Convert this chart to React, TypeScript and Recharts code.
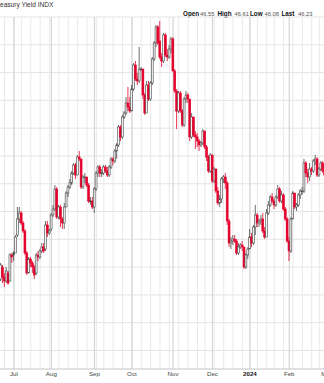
import React from "react";
import { Bar, CartesianGrid, ComposedChart, XAxis, YAxis } from "recharts";

// trading days shown (Jun 2023 - early Mar 2024), the March ones carry no bar yet
const tradingDays = [
  "2023-06-21", "2023-06-22", "2023-06-23", "2023-06-26", "2023-06-27", "2023-06-28", "2023-06-29", "2023-06-30",
  "2023-07-03", "2023-07-05", "2023-07-06", "2023-07-07", "2023-07-10", "2023-07-11", "2023-07-12", "2023-07-13", "2023-07-14",
  "2023-07-17", "2023-07-18", "2023-07-19", "2023-07-20", "2023-07-21", "2023-07-24", "2023-07-25", "2023-07-26", "2023-07-27",
  "2023-07-28", "2023-07-31",
  "2023-08-01", "2023-08-02", "2023-08-03", "2023-08-04", "2023-08-07", "2023-08-08", "2023-08-09", "2023-08-10", "2023-08-11",
  "2023-08-14", "2023-08-15", "2023-08-16", "2023-08-17", "2023-08-18", "2023-08-21", "2023-08-22", "2023-08-23", "2023-08-24",
  "2023-08-25", "2023-08-28", "2023-08-29", "2023-08-30", "2023-08-31",
  "2023-09-01", "2023-09-05", "2023-09-06", "2023-09-07", "2023-09-08", "2023-09-11", "2023-09-12", "2023-09-13", "2023-09-14",
  "2023-09-15", "2023-09-18", "2023-09-19", "2023-09-20", "2023-09-21", "2023-09-22", "2023-09-25", "2023-09-26", "2023-09-27",
  "2023-09-28", "2023-09-29",
  "2023-10-02", "2023-10-03", "2023-10-04", "2023-10-05", "2023-10-06", "2023-10-09", "2023-10-10", "2023-10-11", "2023-10-12",
  "2023-10-13", "2023-10-16", "2023-10-17", "2023-10-18", "2023-10-19", "2023-10-20", "2023-10-23", "2023-10-24", "2023-10-25",
  "2023-10-26", "2023-10-27", "2023-10-30", "2023-10-31",
  "2023-11-01", "2023-11-02", "2023-11-03", "2023-11-06", "2023-11-07", "2023-11-08", "2023-11-09", "2023-11-10", "2023-11-13",
  "2023-11-14", "2023-11-15", "2023-11-16", "2023-11-17", "2023-11-20", "2023-11-21", "2023-11-22", "2023-11-24", "2023-11-27",
  "2023-11-28", "2023-11-29", "2023-11-30",
  "2023-12-01", "2023-12-04", "2023-12-05", "2023-12-06", "2023-12-07", "2023-12-08", "2023-12-11", "2023-12-12", "2023-12-13",
  "2023-12-14", "2023-12-15", "2023-12-18", "2023-12-19", "2023-12-20", "2023-12-21", "2023-12-22", "2023-12-26", "2023-12-27",
  "2023-12-28", "2023-12-29",
  "2024-01-02", "2024-01-03", "2024-01-04", "2024-01-05", "2024-01-08", "2024-01-09", "2024-01-10", "2024-01-11", "2024-01-12",
  "2024-01-16", "2024-01-17", "2024-01-18", "2024-01-19", "2024-01-22", "2024-01-23", "2024-01-24", "2024-01-25", "2024-01-26",
  "2024-01-29", "2024-01-30", "2024-01-31",
  "2024-02-01", "2024-02-02", "2024-02-05", "2024-02-06", "2024-02-07", "2024-02-08", "2024-02-09", "2024-02-12", "2024-02-13",
  "2024-02-14", "2024-02-15", "2024-02-16", "2024-02-20", "2024-02-21", "2024-02-22", "2024-02-23", "2024-02-26", "2024-02-27",
  "2024-02-28", "2024-02-29",
  "2024-03-01", "2024-03-04", "2024-03-05", "2024-03-06", "2024-03-07", "2024-03-08",
];

const opens = [
  37.3, 37.3, 37.9, 37.4, 37.2, 37.6, 37.2, 38.5,
  38.5, 38.6, 39.5, 40.3, 40.6, 40.1, 39.7, 38.6, 37.6, 38.3, 38.1, 37.9, 37.6, 38.5, 38.4, 38.7, 38.9, 38.8, 40.0, 39.6,
  39.8, 40.5, 40.8, 41.8, 40.4, 40.9, 40.3, 40.1, 40.9, 41.6, 41.9, 42.1, 42.6, 43.0, 42.5, 43.4, 43.3, 41.9, 42.4, 42.4, 42.0, 41.2, 41.2,
  40.9, 41.8, 42.6, 42.9, 42.6, 42.6, 42.9, 42.7, 42.5, 42.9, 43.3, 43.2, 43.7, 44.0, 44.9, 44.4, 45.4, 45.6, 46.1, 45.9,
  45.7, 46.8, 48.0, 47.3, 47.2, 47.8, 47.8, 46.5, 45.6, 47.0, 46.3, 47.1, 48.3, 49.1, 49.9, 49.2, 48.4, 48.2, 49.5, 48.5, 48.4, 48.8,
  49.3, 47.7, 46.7, 45.7, 46.6, 45.7, 45.0, 46.3, 46.5, 46.3, 44.4, 45.4, 44.5, 44.4, 44.2, 44.0, 44.1, 44.7, 43.9, 43.4, 42.7,
  43.5, 42.2, 42.8, 41.7, 41.1, 41.3, 42.3, 42.4, 42.1, 40.2, 39.1, 39.2, 39.3, 39.2, 38.6, 38.9, 39.0, 38.9, 37.9, 38.5,
  38.8, 39.4, 39.1, 39.9, 40.5, 40.1, 40.2, 40.3, 39.7, 39.4, 40.6, 41.0, 41.4, 41.2, 41.0, 41.4, 41.8, 41.2, 41.5, 40.8, 40.3,
  39.2, 38.7, 40.3, 41.6, 40.9, 41.0, 41.5, 41.7, 41.7, 43.1, 42.6, 42.4, 42.8, 42.7, 43.2, 43.3, 42.5, 42.8, 43.1, 42.7,
];

const highs = [
  37.6, 38.1, 38.0, 37.6, 37.9, 37.7, 38.6, 38.6,
  38.7, 39.5, 40.9, 40.9, 40.7, 40.2, 39.8, 38.7, 38.4, 38.4, 38.2, 38.0, 38.6, 38.7, 38.8, 39.1, 39.1, 40.2, 40.2, 39.8,
  40.6, 41.0, 42.0, 41.9, 41.0, 41.0, 40.4, 41.1, 41.7, 42.0, 42.3, 42.7, 43.1, 43.1, 43.5, 43.7, 43.3, 42.5, 42.6, 42.4, 42.1, 41.4, 41.4,
  41.9, 42.7, 43.0, 43.0, 42.8, 43.0, 43.0, 42.9, 43.0, 43.4, 43.4, 43.8, 44.1, 45.0, 45.0, 45.5, 45.7, 46.4, 46.9, 46.4,
  47.0, 48.1, 48.2, 47.6, 48.9, 47.9, 47.8, 46.6, 47.2, 47.2, 47.2, 48.4, 49.2, 50.0, 50.0, 50.2, 48.6, 49.6, 49.6, 48.8, 49.0, 49.4,
  49.4, 47.8, 46.8, 46.7, 46.7, 45.8, 46.4, 46.7, 46.6, 46.3, 45.6, 45.4, 44.7, 44.6, 44.3, 44.2, 44.8, 44.7, 44.0, 43.5, 43.6,
  43.5, 42.9, 42.8, 41.9, 41.5, 42.4, 42.5, 42.6, 42.2, 40.3, 39.4, 39.5, 39.5, 39.3, 39.1, 39.1, 39.2, 38.9, 38.6, 38.9,
  39.8, 39.6, 40.0, 41.0, 40.6, 40.3, 40.5, 40.6, 39.9, 40.8, 41.2, 41.5, 41.6, 41.3, 41.5, 42.0, 41.9, 41.7, 41.6, 40.9, 40.4,
  39.4, 40.4, 41.7, 41.6, 41.1, 41.6, 41.8, 41.9, 43.3, 43.2, 42.8, 43.1, 42.9, 43.3, 43.5, 43.4, 42.9, 43.2, 43.2, 43.0,
];

const lows = [
  37.0, 37.2, 37.1, 36.9, 37.1, 37.0, 37.2, 38.1,
  38.2, 38.6, 39.4, 40.1, 40.0, 39.6, 38.5, 37.5, 37.6, 37.9, 37.6, 37.3, 37.5, 38.2, 38.3, 38.6, 38.6, 38.7, 39.4, 39.5,
  39.7, 40.4, 40.7, 40.3, 40.3, 39.9, 39.8, 39.8, 40.9, 41.4, 41.8, 42.0, 42.5, 42.3, 42.5, 43.2, 41.8, 41.8, 42.1, 41.9, 41.1, 41.0, 40.8,
  40.6, 41.7, 42.4, 42.4, 42.4, 42.5, 42.6, 42.4, 42.4, 42.8, 43.0, 43.1, 43.3, 43.9, 44.2, 44.3, 45.3, 45.5, 45.7, 45.6,
  45.7, 46.7, 47.2, 47.0, 47.1, 47.7, 46.3, 45.5, 45.6, 46.2, 46.2, 47.0, 48.2, 48.9, 49.0, 48.3, 47.9, 48.1, 48.4, 48.2, 48.3, 48.6,
  47.7, 46.6, 44.8, 45.6, 45.6, 44.9, 44.9, 46.1, 46.1, 44.2, 44.3, 44.4, 43.8, 43.9, 43.7, 43.9, 44.0, 43.8, 43.2, 42.6, 42.6,
  42.1, 42.1, 41.6, 41.0, 40.9, 41.1, 42.1, 41.8, 40.0, 38.9, 38.8, 39.0, 39.1, 38.5, 38.5, 38.8, 38.7, 37.8, 37.8, 38.3,
  38.8, 38.9, 39.0, 39.5, 39.9, 39.9, 40.0, 39.6, 39.3, 39.4, 40.5, 40.9, 41.1, 40.8, 40.9, 41.3, 41.1, 41.1, 40.7, 40.2, 39.1,
  38.2, 38.6, 40.3, 40.8, 40.7, 40.9, 41.3, 41.5, 41.6, 42.4, 42.1, 42.2, 42.5, 42.6, 43.0, 42.4, 42.4, 42.7, 42.6, 42.4,
];

const closes = [
  37.2, 38.0, 37.4, 37.2, 37.7, 37.1, 38.5, 38.4,
  38.6, 39.4, 40.3, 40.6, 40.1, 39.7, 38.6, 37.6, 38.3, 38.1, 37.9, 37.5, 38.5, 38.4, 38.7, 38.9, 38.7, 40.0, 39.6, 39.7,
  40.5, 40.8, 41.8, 40.4, 40.9, 40.3, 40.1, 40.9, 41.6, 41.9, 42.1, 42.6, 43.0, 42.5, 43.4, 43.3, 41.9, 42.4, 42.4, 42.0, 41.2, 41.2, 40.9,
  41.8, 42.6, 42.9, 42.6, 42.6, 42.9, 42.7, 42.5, 42.9, 43.3, 43.2, 43.7, 44.0, 44.9, 44.4, 45.4, 45.6, 46.1, 45.9, 45.7,
  46.8, 48.0, 47.3, 47.2, 47.8, 47.8, 46.5, 45.6, 47.0, 46.3, 47.1, 48.3, 49.1, 49.9, 49.1, 48.4, 48.2, 49.5, 48.5, 48.4, 48.8, 49.3,
  47.7, 46.7, 45.7, 46.6, 45.7, 45.0, 46.3, 46.5, 46.3, 44.4, 45.4, 44.5, 44.4, 44.2, 44.0, 44.1, 44.7, 43.9, 43.4, 42.7, 43.5,
  42.2, 42.8, 41.7, 41.1, 41.3, 42.3, 42.4, 42.1, 40.2, 39.1, 39.2, 39.3, 39.2, 38.6, 38.9, 39.0, 38.9, 37.9, 38.5, 38.8,
  39.4, 39.1, 39.9, 40.5, 40.1, 40.2, 40.3, 39.7, 39.4, 40.6, 41.0, 41.4, 41.2, 41.0, 41.4, 41.8, 41.2, 41.5, 40.8, 40.3, 39.2,
  38.7, 40.3, 41.6, 40.9, 41.0, 41.5, 41.7, 41.7, 43.1, 42.6, 42.4, 42.8, 42.7, 43.2, 43.3, 42.5, 42.8, 43.1, 42.7, 42.5,
];

// first trading day of each month -> axis label
const monthStarts = ["2023-07-03", "2023-08-01", "2023-09-01", "2023-10-02", "2023-11-01", "2023-12-01", "2024-01-02", "2024-02-01", "2024-03-01"];
const monthLabels = ["Jul", "Aug", "Sep", "Oct", "Nov", "Dec", "2024", "Feb", "Mar"];

// first trading day of each week (light grid)
const weekStarts = [
  "2023-06-26", "2023-07-03", "2023-07-10", "2023-07-17", "2023-07-24", "2023-07-31", "2023-08-07", "2023-08-14", "2023-08-21",
  "2023-08-28", "2023-09-05", "2023-09-11", "2023-09-18", "2023-09-25", "2023-10-02", "2023-10-09", "2023-10-16", "2023-10-23",
  "2023-10-30", "2023-11-06", "2023-11-13", "2023-11-20", "2023-11-27", "2023-12-04", "2023-12-11", "2023-12-18", "2023-12-26",
  "2024-01-02", "2024-01-08", "2024-01-16", "2024-01-22", "2024-01-29", "2024-02-05", "2024-02-12", "2024-02-20", "2024-02-26",
  "2024-03-04",
];

const Y_MIN = 32.8;
const Y_MAX = 50.4;
const gridRows = Array.from({ length: 39 }, (_, i) => Y_MIN + ((Y_MAX - Y_MIN) * i) / 38);

const data = tradingDays.map((date, i) => ({
  date,
  open: opens[i] ?? null,
  high: highs[i] ?? null,
  low: lows[i] ?? null,
  close: closes[i] ?? null,
  prevClose: i > 0 ? closes[i - 1] ?? null : null,
}));

const FONT = "'Liberation Sans', Arial, sans-serif";
const UP = "#484848";
const DOWN = "#e4002b";

const Candle = (props: any) => {
  const { x, y, width, height, payload } = props;
  if (payload == null || payload.high == null) return null;
  const { open, close, high, low, prevClose } = payload;
  const span = high - low;
  const yOf = (v: number) => (span === 0 ? y : y + ((high - v) / span) * height);
  const cx = x + width / 2;
  const color = prevClose == null || close >= prevClose ? UP : DOWN;
  const hollow = close > open;
  const top = yOf(Math.max(open, close));
  const bottom = yOf(Math.min(open, close));
  const bodyW = 1.9;
  return (
    <g>
      <line x1={cx} x2={cx} y1={y} y2={y + height} stroke={color} strokeWidth={0.8} />
      <rect
        x={cx - bodyW / 2}
        y={top}
        width={bodyW}
        height={Math.max(bottom - top, 0.8)}
        fill={hollow ? "#f4f4f4" : color}
        stroke={color}
        strokeWidth={0.6}
      />
    </g>
  );
};

const MonthTick = (props: any) => {
  const { x, y, payload } = props;
  const label = monthLabels[monthStarts.indexOf(payload.value)] ?? "";
  const bold = label === "2024";
  return (
    <text
      x={x}
      y={y + 7}
      textAnchor="middle"
      fontFamily={FONT}
      fontSize={6.2}
      fontWeight={bold ? "bold" : "normal"}
      fill={bold ? "#111" : "#444"}
    >
      {label}
    </text>
  );
};

const headerPieces = [
  { text: "Open", x: 183, bold: true },
  { text: "46.55", x: 200, bold: false },
  { text: "High", x: 217.5, bold: true },
  { text: "46.61", x: 234.5, bold: false },
  { text: "Low", x: 250, bold: true },
  { text: "46.08", x: 264.5, bold: false },
  { text: "Last", x: 281.5, bold: true },
  { text: "46.23", x: 298, bold: false },
];

export default function App() {
  return (
    <div
      style={{
        position: "absolute",
        left: 0,
        top: 0,
        width: 324,
        height: 383,
        overflow: "hidden",
        background: "#fff",
        fontFamily: FONT,
      }}
    >
      <div style={{ position: "absolute", left: -6, top: 1, fontSize: 6.6, color: "#333", whiteSpace: "nowrap" }}>
        Treasury Yield INDX
      </div>
      {headerPieces.map((p) => (
        <div
          key={p.text + p.x}
          style={{
            position: "absolute",
            left: p.x,
            top: p.bold ? 10 : 10.3,
            fontSize: p.bold ? 6.3 : 5.8,
            fontWeight: p.bold ? "bold" : "normal",
            color: p.bold ? "#111" : "#555",
            whiteSpace: "nowrap",
            lineHeight: "8px",
          }}
        >
          {p.text}
        </div>
      ))}
      <div style={{ position: "absolute", left: -2, top: 0 }}>
        <ComposedChart width={339} height={383} data={data} margin={{ top: 17, right: 0, bottom: 0, left: 0 }}>
          <CartesianGrid vertical={false} horizontalValues={gridRows} stroke="#e4e4e4" strokeWidth={1} />
          <CartesianGrid xAxisId="weeks" horizontal={false} stroke="#e9e9e9" strokeWidth={1} />
          <CartesianGrid xAxisId="main" horizontal={false} stroke="#d5d5d5" strokeWidth={1.2} />
          <XAxis xAxisId="weeks" dataKey="date" ticks={weekStarts} interval={0} hide />
          <XAxis
            xAxisId="main"
            dataKey="date"
            ticks={monthStarts}
            interval={0}
            height={14}
            tickSize={0}
            tickMargin={0}
            tickLine={false}
            axisLine={{ stroke: "#c4c4c4" }}
            tick={<MonthTick />}
          />
          <YAxis hide type="number" domain={[Y_MIN, Y_MAX]} ticks={gridRows} allowDataOverflow />
          <Bar
            xAxisId="main"
            dataKey={(d: any) => (d.high == null ? null : [d.low, d.high])}
            shape={<Candle />}
            isAnimationActive={false}
          />
        </ComposedChart>
      </div>
    </div>
  );
}
